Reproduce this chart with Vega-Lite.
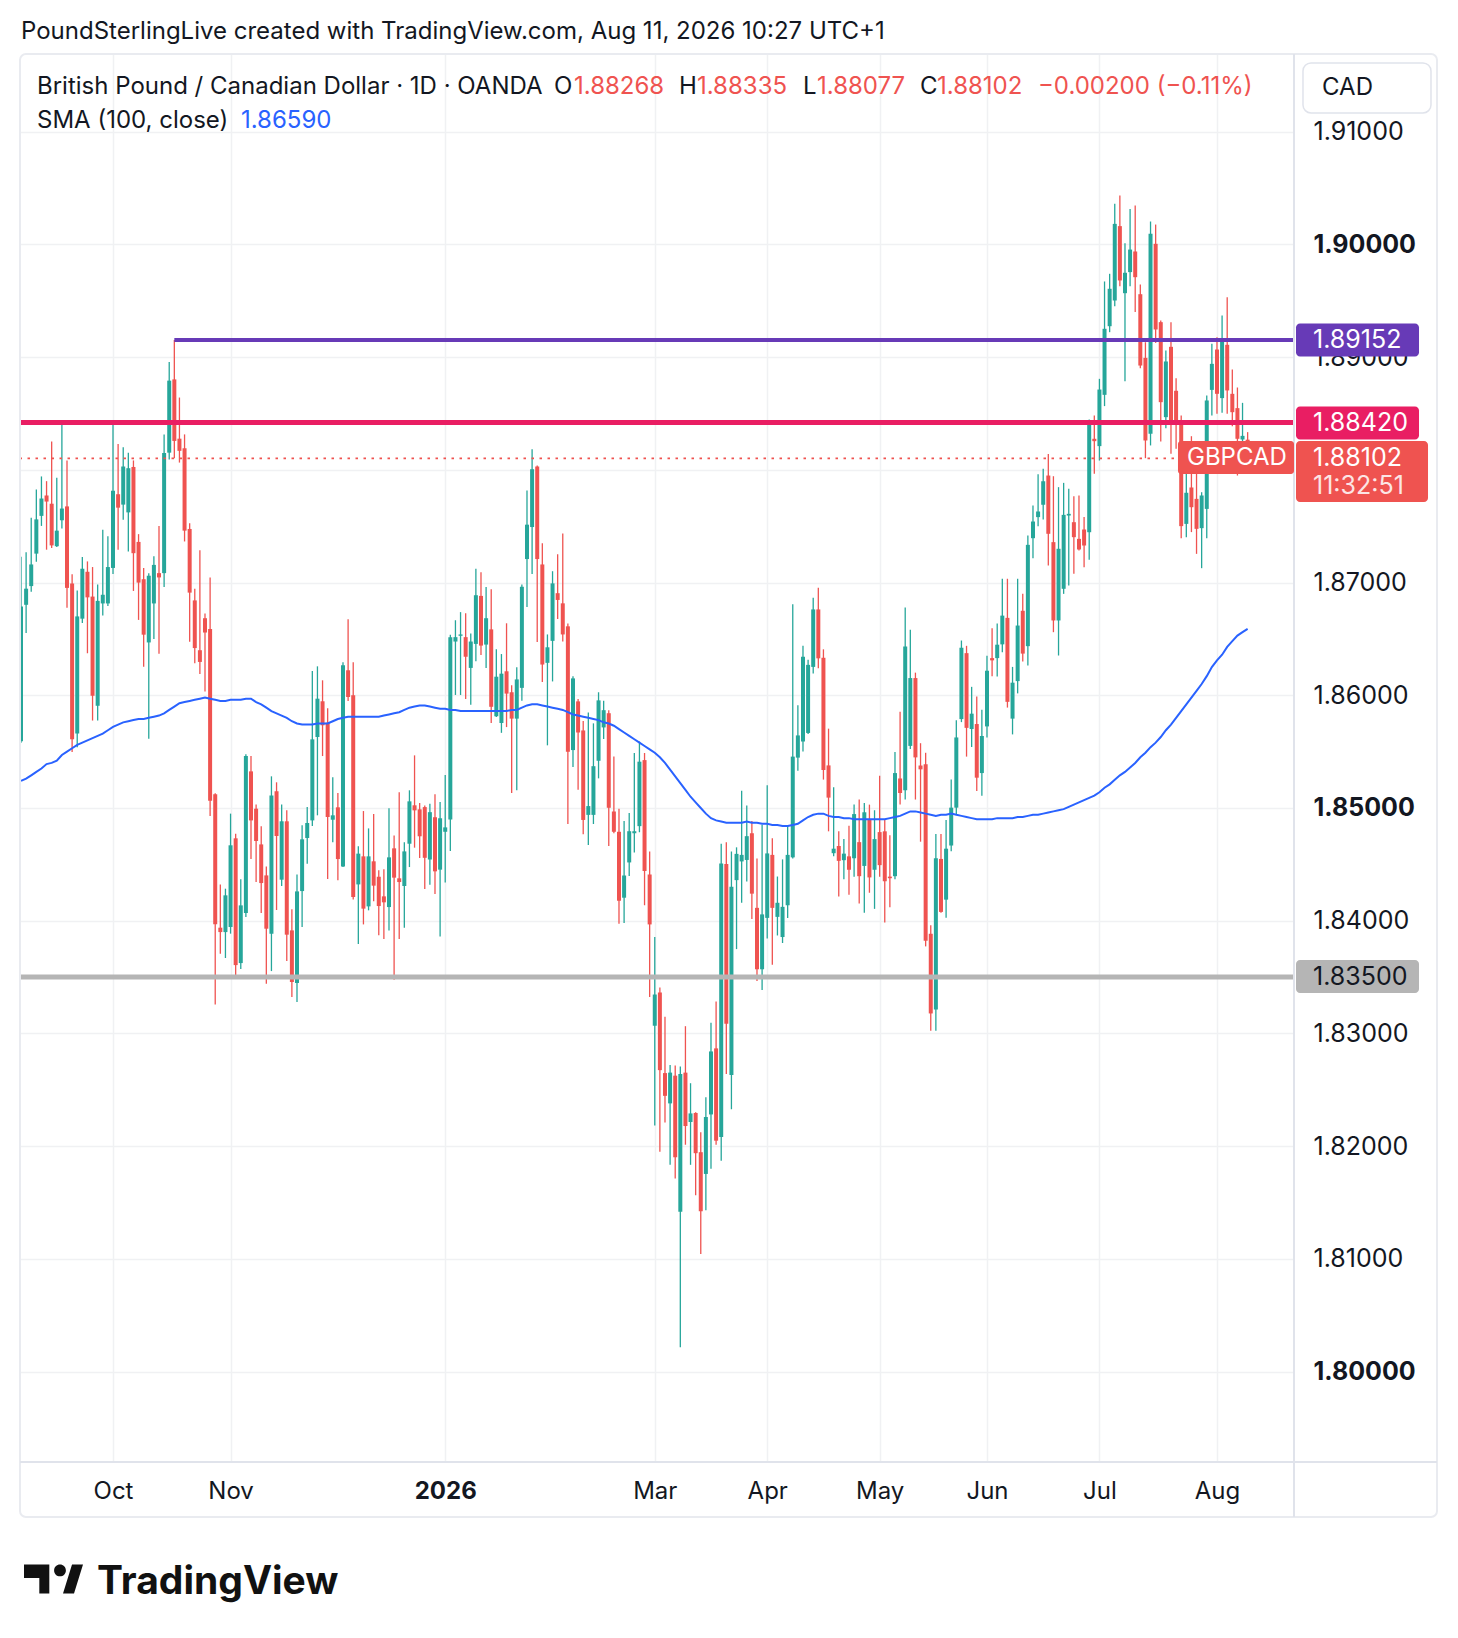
{
  "$schema": "https://vega.github.io/schema/vega-lite/v6.json",
  "width": 1274,
  "height": 1408,
  "autosize": {"type": "none"},
  "padding": {"left": 20, "top": 54, "right": 164, "bottom": 176},
  "background": "#ffffff",
  "config": {"view": {"stroke": null}, "font": "Inter"},
  "data": {"values": [
    {"d":"2025-09-05","o":1.85592,"h":1.8723,"l":1.8558,"c":1.86788,"s":1.8524},
    {"d":"2025-09-08","o":1.86803,"h":1.87269,"l":1.86553,"c":1.86946,"s":1.8526},
    {"d":"2025-09-09","o":1.86969,"h":1.87576,"l":1.86919,"c":1.87161,"s":1.8529},
    {"d":"2025-09-10","o":1.87257,"h":1.87827,"l":1.87184,"c":1.87561,"s":1.8532},
    {"d":"2025-09-11","o":1.87592,"h":1.87942,"l":1.87503,"c":1.87746,"s":1.8535},
    {"d":"2025-09-12","o":1.87773,"h":1.879,"l":1.87292,"c":1.87719,"s":1.8539},
    {"d":"2025-09-15","o":1.877,"h":1.88253,"l":1.87307,"c":1.8733,"s":1.854},
    {"d":"2025-09-16","o":1.87323,"h":1.8793,"l":1.87315,"c":1.87461,"s":1.8542},
    {"d":"2025-09-17","o":1.87553,"h":1.8843,"l":1.8748,"c":1.87657,"s":1.8547},
    {"d":"2025-09-18","o":1.87676,"h":1.88084,"l":1.86777,"c":1.86953,"s":1.855},
    {"d":"2025-09-19","o":1.86992,"h":1.87073,"l":1.85496,"c":1.85611,"s":1.8553},
    {"d":"2025-09-22","o":1.85661,"h":1.8693,"l":1.85538,"c":1.867,"s":1.8556},
    {"d":"2025-09-23","o":1.8668,"h":1.87227,"l":1.86642,"c":1.87123,"s":1.8558},
    {"d":"2025-09-24","o":1.87096,"h":1.87188,"l":1.86373,"c":1.86869,"s":1.856},
    {"d":"2025-09-25","o":1.86876,"h":1.87138,"l":1.85776,"c":1.85996,"s":1.8562},
    {"d":"2025-09-26","o":1.85907,"h":1.86984,"l":1.85776,"c":1.86838,"s":1.8564},
    {"d":"2025-09-29","o":1.86815,"h":1.87469,"l":1.86707,"c":1.86892,"s":1.8566},
    {"d":"2025-09-30","o":1.86815,"h":1.87411,"l":1.86792,"c":1.87138,"s":1.8569},
    {"d":"2025-10-01","o":1.8713,"h":1.884,"l":1.87076,"c":1.87815,"s":1.8572},
    {"d":"2025-10-02","o":1.87784,"h":1.8823,"l":1.87292,"c":1.87665,"s":1.8574},
    {"d":"2025-10-03","o":1.87692,"h":1.882,"l":1.87557,"c":1.8803,"s":1.8576},
    {"d":"2025-10-06","o":1.87623,"h":1.88153,"l":1.87277,"c":1.88015,"s":1.8577},
    {"d":"2025-10-07","o":1.88026,"h":1.88084,"l":1.86926,"c":1.87261,"s":1.8578},
    {"d":"2025-10-08","o":1.87361,"h":1.8743,"l":1.86669,"c":1.87,"s":1.8579},
    {"d":"2025-10-09","o":1.8703,"h":1.8713,"l":1.86253,"c":1.86538,"s":1.8579},
    {"d":"2025-10-10","o":1.86469,"h":1.87084,"l":1.85615,"c":1.87061,"s":1.858},
    {"d":"2025-10-13","o":1.86815,"h":1.87234,"l":1.865,"c":1.87157,"s":1.8581},
    {"d":"2025-10-14","o":1.87084,"h":1.87503,"l":1.86369,"c":1.87046,"s":1.8582},
    {"d":"2025-10-15","o":1.87084,"h":1.88315,"l":1.86961,"c":1.8815,"s":1.8584},
    {"d":"2025-10-16","o":1.88153,"h":1.88957,"l":1.88092,"c":1.88792,"s":1.8587},
    {"d":"2025-10-17","o":1.88803,"h":1.89152,"l":1.88103,"c":1.88257,"s":1.859},
    {"d":"2025-10-20","o":1.88277,"h":1.88642,"l":1.88065,"c":1.88169,"s":1.8593},
    {"d":"2025-10-21","o":1.88192,"h":1.88315,"l":1.87365,"c":1.87461,"s":1.8594},
    {"d":"2025-10-22","o":1.87476,"h":1.87527,"l":1.86476,"c":1.86911,"s":1.8595},
    {"d":"2025-10-23","o":1.86842,"h":1.86946,"l":1.86284,"c":1.86419,"s":1.8596},
    {"d":"2025-10-24","o":1.864,"h":1.87288,"l":1.86188,"c":1.86296,"s":1.8597},
    {"d":"2025-10-27","o":1.86684,"h":1.86726,"l":1.86034,"c":1.86557,"s":1.8598},
    {"d":"2025-10-28","o":1.86588,"h":1.87046,"l":1.8493,"c":1.85065,"s":1.8597},
    {"d":"2025-10-29","o":1.85123,"h":1.8513,"l":1.83257,"c":1.83969,"s":1.8596},
    {"d":"2025-10-30","o":1.83938,"h":1.84322,"l":1.83707,"c":1.83899,"s":1.8595},
    {"d":"2025-10-31","o":1.83899,"h":1.84284,"l":1.83669,"c":1.84225,"s":1.8595},
    {"d":"2025-11-03","o":1.83944,"h":1.8495,"l":1.83885,"c":1.84669,"s":1.8596},
    {"d":"2025-11-04","o":1.84731,"h":1.84772,"l":1.83482,"c":1.83606,"s":1.8596},
    {"d":"2025-11-05","o":1.83624,"h":1.84367,"l":1.83571,"c":1.84136,"s":1.8596},
    {"d":"2025-11-06","o":1.84068,"h":1.85476,"l":1.84032,"c":1.85461,"s":1.8597},
    {"d":"2025-11-07","o":1.85325,"h":1.85461,"l":1.84547,"c":1.8489,"s":1.8597},
    {"d":"2025-11-10","o":1.84994,"h":1.85032,"l":1.84343,"c":1.84707,"s":1.8594},
    {"d":"2025-11-11","o":1.84677,"h":1.84837,"l":1.84068,"c":1.84334,"s":1.8592},
    {"d":"2025-11-12","o":1.84402,"h":1.84482,"l":1.83441,"c":1.83929,"s":1.8589},
    {"d":"2025-11-13","o":1.83885,"h":1.85281,"l":1.83553,"c":1.85112,"s":1.8586},
    {"d":"2025-11-14","o":1.85148,"h":1.85228,"l":1.84095,"c":1.84752,"s":1.8584},
    {"d":"2025-11-17","o":1.84364,"h":1.85032,"l":1.84308,"c":1.84882,"s":1.8582},
    {"d":"2025-11-18","o":1.84882,"h":1.84979,"l":1.83642,"c":1.83876,"s":1.858},
    {"d":"2025-11-19","o":1.83914,"h":1.84101,"l":1.83322,"c":1.83456,"s":1.8577},
    {"d":"2025-11-20","o":1.83447,"h":1.84411,"l":1.83278,"c":1.8426,"s":1.8575},
    {"d":"2025-11-21","o":1.84263,"h":1.84846,"l":1.83944,"c":1.84722,"s":1.8574},
    {"d":"2025-11-24","o":1.84734,"h":1.85009,"l":1.84506,"c":1.84867,"s":1.8574},
    {"d":"2025-11-25","o":1.8489,"h":1.86216,"l":1.8484,"c":1.85609,"s":1.8574},
    {"d":"2025-11-26","o":1.8563,"h":1.86257,"l":1.84935,"c":1.8597,"s":1.8575},
    {"d":"2025-11-27","o":1.85947,"h":1.86133,"l":1.85461,"c":1.85734,"s":1.8575},
    {"d":"2025-11-28","o":1.85757,"h":1.85885,"l":1.8437,"c":1.8492,"s":1.8575},
    {"d":"2025-12-01","o":1.84896,"h":1.85272,"l":1.84695,"c":1.84935,"s":1.8577},
    {"d":"2025-12-02","o":1.85006,"h":1.85133,"l":1.84358,"c":1.84547,"s":1.8579},
    {"d":"2025-12-03","o":1.84482,"h":1.86293,"l":1.84476,"c":1.86266,"s":1.858},
    {"d":"2025-12-04","o":1.86222,"h":1.86675,"l":1.8595,"c":1.85985,"s":1.8581},
    {"d":"2025-12-05","o":1.86,"h":1.86293,"l":1.84189,"c":1.8421,"s":1.8581},
    {"d":"2025-12-08","o":1.84322,"h":1.8466,"l":1.83793,"c":1.84595,"s":1.8581},
    {"d":"2025-12-09","o":1.84571,"h":1.84973,"l":1.83967,"c":1.84107,"s":1.8581},
    {"d":"2025-12-10","o":1.84127,"h":1.84819,"l":1.84092,"c":1.84571,"s":1.8581},
    {"d":"2025-12-11","o":1.84527,"h":1.84947,"l":1.84172,"c":1.84311,"s":1.8581},
    {"d":"2025-12-12","o":1.8439,"h":1.84447,"l":1.8387,"c":1.8413,"s":1.8581},
    {"d":"2025-12-15","o":1.84216,"h":1.84456,"l":1.83837,"c":1.84163,"s":1.8582},
    {"d":"2025-12-16","o":1.84121,"h":1.84997,"l":1.83914,"c":1.84562,"s":1.8583},
    {"d":"2025-12-17","o":1.84642,"h":1.84757,"l":1.83476,"c":1.84382,"s":1.8584},
    {"d":"2025-12-18","o":1.84376,"h":1.85139,"l":1.83837,"c":1.84343,"s":1.8585},
    {"d":"2025-12-19","o":1.84308,"h":1.84695,"l":1.83938,"c":1.84615,"s":1.8587},
    {"d":"2025-12-22","o":1.84683,"h":1.85157,"l":1.84476,"c":1.85059,"s":1.8589},
    {"d":"2025-12-23","o":1.85024,"h":1.85467,"l":1.84648,"c":1.84979,"s":1.859},
    {"d":"2025-12-24","o":1.84988,"h":1.85044,"l":1.84556,"c":1.84749,"s":1.8591},
    {"d":"2025-12-26","o":1.85008,"h":1.85023,"l":1.84282,"c":1.84558,"s":1.8591},
    {"d":"2025-12-29","o":1.84543,"h":1.85038,"l":1.84318,"c":1.84963,"s":1.859},
    {"d":"2025-12-30","o":1.84918,"h":1.85122,"l":1.84237,"c":1.84438,"s":1.8589},
    {"d":"2025-12-31","o":1.84453,"h":1.85053,"l":1.83859,"c":1.84909,"s":1.8588},
    {"d":"2026-01-02","o":1.84789,"h":1.85293,"l":1.84339,"c":1.84828,"s":1.8588},
    {"d":"2026-01-05","o":1.84897,"h":1.86537,"l":1.84618,"c":1.86516,"s":1.8587},
    {"d":"2026-01-06","o":1.86477,"h":1.86666,"l":1.86003,"c":1.86516,"s":1.8587},
    {"d":"2026-01-07","o":1.86528,"h":1.86738,"l":1.86003,"c":1.8654,"s":1.8586},
    {"d":"2026-01-08","o":1.86516,"h":1.86729,"l":1.85967,"c":1.86342,"s":1.8586},
    {"d":"2026-01-09","o":1.86243,"h":1.86549,"l":1.85916,"c":1.86477,"s":1.8586},
    {"d":"2026-01-12","o":1.86456,"h":1.87122,"l":1.86303,"c":1.86888,"s":1.8586},
    {"d":"2026-01-13","o":1.86882,"h":1.87092,"l":1.86357,"c":1.86441,"s":1.8586},
    {"d":"2026-01-14","o":1.8645,"h":1.8696,"l":1.86243,"c":1.86684,"s":1.8586},
    {"d":"2026-01-15","o":1.86585,"h":1.86942,"l":1.85754,"c":1.85898,"s":1.8586},
    {"d":"2026-01-16","o":1.85814,"h":1.86408,"l":1.85808,"c":1.86165,"s":1.8586},
    {"d":"2026-01-19","o":1.85754,"h":1.86366,"l":1.85667,"c":1.86192,"s":1.8586},
    {"d":"2026-01-20","o":1.86213,"h":1.86639,"l":1.85718,"c":1.86015,"s":1.8586},
    {"d":"2026-01-21","o":1.86027,"h":1.8609,"l":1.85134,"c":1.85793,"s":1.8587},
    {"d":"2026-01-22","o":1.85793,"h":1.86249,"l":1.85158,"c":1.86141,"s":1.8587},
    {"d":"2026-01-23","o":1.86066,"h":1.86984,"l":1.85952,"c":1.86963,"s":1.8589},
    {"d":"2026-01-26","o":1.87209,"h":1.87817,"l":1.86783,"c":1.87514,"s":1.8591},
    {"d":"2026-01-27","o":1.87493,"h":1.88183,"l":1.87077,"c":1.88006,"s":1.8592},
    {"d":"2026-01-28","o":1.8803,"h":1.8804,"l":1.86474,"c":1.87209,"s":1.8592},
    {"d":"2026-01-29","o":1.87161,"h":1.8735,"l":1.86117,"c":1.86273,"s":1.8591},
    {"d":"2026-01-30","o":1.86288,"h":1.8654,"l":1.85556,"c":1.86426,"s":1.859},
    {"d":"2026-02-02","o":1.86483,"h":1.87101,"l":1.86123,"c":1.86993,"s":1.8589},
    {"d":"2026-02-03","o":1.86906,"h":1.87251,"l":1.86678,"c":1.86846,"s":1.8588},
    {"d":"2026-02-04","o":1.86816,"h":1.87436,"l":1.86477,"c":1.8654,"s":1.8587},
    {"d":"2026-02-05","o":1.86612,"h":1.86636,"l":1.84858,"c":1.85499,"s":1.8585},
    {"d":"2026-02-06","o":1.85514,"h":1.86168,"l":1.85364,"c":1.8615,"s":1.8583},
    {"d":"2026-02-09","o":1.85946,"h":1.85967,"l":1.85161,"c":1.8567,"s":1.8582},
    {"d":"2026-02-10","o":1.85688,"h":1.85772,"l":1.84768,"c":1.84894,"s":1.8581},
    {"d":"2026-02-11","o":1.84939,"h":1.85847,"l":1.84672,"c":1.85017,"s":1.858},
    {"d":"2026-02-12","o":1.84939,"h":1.85751,"l":1.84858,"c":1.85371,"s":1.8579},
    {"d":"2026-02-13","o":1.85419,"h":1.86027,"l":1.85263,"c":1.85955,"s":1.8578},
    {"d":"2026-02-16","o":1.85715,"h":1.85952,"l":1.85613,"c":1.85868,"s":1.8576},
    {"d":"2026-02-17","o":1.85841,"h":1.85868,"l":1.84663,"c":1.85002,"s":1.8575},
    {"d":"2026-02-18","o":1.84969,"h":1.85458,"l":1.84777,"c":1.84789,"s":1.8573},
    {"d":"2026-02-19","o":1.84789,"h":1.84993,"l":1.83973,"c":1.84177,"s":1.857},
    {"d":"2026-02-20","o":1.84204,"h":1.84884,"l":1.8398,"c":1.84401,"s":1.8567},
    {"d":"2026-02-23","o":1.84517,"h":1.84955,"l":1.84396,"c":1.84794,"s":1.8564},
    {"d":"2026-02-24","o":1.84776,"h":1.85488,"l":1.84606,"c":1.84794,"s":1.8561},
    {"d":"2026-02-25","o":1.84839,"h":1.8559,"l":1.84785,"c":1.85411,"s":1.8558},
    {"d":"2026-02-26","o":1.85425,"h":1.85488,"l":1.84137,"c":1.84441,"s":1.8555},
    {"d":"2026-02-27","o":1.8441,"h":1.84615,"l":1.83323,"c":1.83967,"s":1.8552},
    {"d":"2026-03-02","o":1.83068,"h":1.83855,"l":1.82182,"c":1.83345,"s":1.8549},
    {"d":"2026-03-03","o":1.83363,"h":1.83408,"l":1.8195,"c":1.82674,"s":1.8545},
    {"d":"2026-03-04","o":1.82648,"h":1.83148,"l":1.82209,"c":1.82446,"s":1.854},
    {"d":"2026-03-05","o":1.82379,"h":1.82719,"l":1.81834,"c":1.82652,"s":1.8534},
    {"d":"2026-03-06","o":1.82625,"h":1.82715,"l":1.81713,"c":1.81901,"s":1.8528},
    {"d":"2026-03-09","o":1.81418,"h":1.82706,"l":1.80215,"c":1.82639,"s":1.8522},
    {"d":"2026-03-10","o":1.82652,"h":1.83064,"l":1.82012,"c":1.82178,"s":1.8516},
    {"d":"2026-03-11","o":1.82214,"h":1.82558,"l":1.81834,"c":1.8229,"s":1.851},
    {"d":"2026-03-12","o":1.82294,"h":1.823,"l":1.81565,"c":1.81937,"s":1.8505},
    {"d":"2026-03-13","o":1.81946,"h":1.82124,"l":1.81042,"c":1.81422,"s":1.85},
    {"d":"2026-03-16","o":1.81753,"h":1.82433,"l":1.81431,"c":1.82258,"s":1.8495},
    {"d":"2026-03-17","o":1.82281,"h":1.83095,"l":1.81798,"c":1.8284,"s":1.8491},
    {"d":"2026-03-18","o":1.82867,"h":1.83283,"l":1.82012,"c":1.82048,"s":1.8489},
    {"d":"2026-03-19","o":1.8208,"h":1.84682,"l":1.81869,"c":1.84508,"s":1.8488},
    {"d":"2026-03-20","o":1.84504,"h":1.84696,"l":1.82639,"c":1.83086,"s":1.8487},
    {"d":"2026-03-23","o":1.8263,"h":1.84615,"l":1.82326,"c":1.84302,"s":1.8487},
    {"d":"2026-03-24","o":1.8436,"h":1.84651,"l":1.83748,"c":1.84593,"s":1.8487},
    {"d":"2026-03-25","o":1.84526,"h":1.85152,"l":1.84159,"c":1.84584,"s":1.8487},
    {"d":"2026-03-26","o":1.84539,"h":1.85022,"l":1.84347,"c":1.8475,"s":1.8488},
    {"d":"2026-03-27","o":1.84776,"h":1.84884,"l":1.84016,"c":1.8424,"s":1.8487},
    {"d":"2026-03-30","o":1.84114,"h":1.84553,"l":1.83466,"c":1.83569,"s":1.8487},
    {"d":"2026-03-31","o":1.83569,"h":1.84852,"l":1.83386,"c":1.84056,"s":1.8486},
    {"d":"2026-04-01","o":1.84025,"h":1.85201,"l":1.83842,"c":1.84597,"s":1.8486},
    {"d":"2026-04-02","o":1.84584,"h":1.84732,"l":1.83609,"c":1.84114,"s":1.8485},
    {"d":"2026-04-03","o":1.84034,"h":1.84392,"l":1.83869,"c":1.84159,"s":1.8485},
    {"d":"2026-04-06","o":1.83855,"h":1.84544,"l":1.83802,"c":1.84123,"s":1.8484},
    {"d":"2026-04-07","o":1.84137,"h":1.84843,"l":1.84025,"c":1.84584,"s":1.8484},
    {"d":"2026-04-08","o":1.84562,"h":1.86807,"l":1.84553,"c":1.85456,"s":1.8485},
    {"d":"2026-04-09","o":1.85447,"h":1.85912,"l":1.85331,"c":1.85644,"s":1.8486},
    {"d":"2026-04-10","o":1.8559,"h":1.8644,"l":1.85501,"c":1.86342,"s":1.8489},
    {"d":"2026-04-13","o":1.85666,"h":1.86315,"l":1.85657,"c":1.8627,"s":1.8492},
    {"d":"2026-04-14","o":1.86252,"h":1.86865,"l":1.86194,"c":1.86762,"s":1.8494},
    {"d":"2026-04-15","o":1.86762,"h":1.86954,"l":1.86239,"c":1.86328,"s":1.8495},
    {"d":"2026-04-16","o":1.86333,"h":1.86408,"l":1.85252,"c":1.85337,"s":1.8495},
    {"d":"2026-04-17","o":1.85378,"h":1.85704,"l":1.84793,"c":1.85092,"s":1.8493},
    {"d":"2026-04-20","o":1.84599,"h":1.85184,"l":1.84571,"c":1.84639,"s":1.8492},
    {"d":"2026-04-21","o":1.84663,"h":1.84793,"l":1.84214,"c":1.84531,"s":1.8492},
    {"d":"2026-04-22","o":1.84537,"h":1.84725,"l":1.84367,"c":1.84595,"s":1.8491},
    {"d":"2026-04-23","o":1.84571,"h":1.84843,"l":1.84231,"c":1.84452,"s":1.8491},
    {"d":"2026-04-24","o":1.84554,"h":1.8503,"l":1.84391,"c":1.84946,"s":1.849},
    {"d":"2026-04-27","o":1.84697,"h":1.85075,"l":1.84153,"c":1.84395,"s":1.849},
    {"d":"2026-04-28","o":1.84486,"h":1.85044,"l":1.84071,"c":1.84962,"s":1.849},
    {"d":"2026-04-29","o":1.84901,"h":1.8503,"l":1.84248,"c":1.84384,"s":1.849},
    {"d":"2026-04-30","o":1.84452,"h":1.8498,"l":1.84105,"c":1.84724,"s":1.849},
    {"d":"2026-05-01","o":1.84786,"h":1.85286,"l":1.84391,"c":1.84493,"s":1.849},
    {"d":"2026-05-04","o":1.84793,"h":1.84894,"l":1.83983,"c":1.8435,"s":1.849},
    {"d":"2026-05-05","o":1.84391,"h":1.84758,"l":1.84119,"c":1.84377,"s":1.8491},
    {"d":"2026-05-06","o":1.84395,"h":1.85497,"l":1.84367,"c":1.8531,"s":1.8492},
    {"d":"2026-05-07","o":1.85262,"h":1.85854,"l":1.85031,"c":1.85133,"s":1.8493},
    {"d":"2026-05-08","o":1.85157,"h":1.86779,"l":1.85075,"c":1.86432,"s":1.8495},
    {"d":"2026-05-11","o":1.85551,"h":1.86582,"l":1.85524,"c":1.86153,"s":1.8497},
    {"d":"2026-05-12","o":1.86153,"h":1.86201,"l":1.85075,"c":1.85449,"s":1.8497},
    {"d":"2026-05-13","o":1.85377,"h":1.85575,"l":1.84701,"c":1.85343,"s":1.8496},
    {"d":"2026-05-14","o":1.85388,"h":1.8549,"l":1.83772,"c":1.83823,"s":1.8495},
    {"d":"2026-05-15","o":1.83884,"h":1.83959,"l":1.83024,"c":1.83177,"s":1.8494},
    {"d":"2026-05-18","o":1.83211,"h":1.84769,"l":1.83024,"c":1.84554,"s":1.8493},
    {"d":"2026-05-19","o":1.84548,"h":1.84769,"l":1.8407,"c":1.84078,"s":1.8494},
    {"d":"2026-05-20","o":1.84187,"h":1.84894,"l":1.84027,"c":1.84639,"s":1.8494},
    {"d":"2026-05-21","o":1.84667,"h":1.85252,"l":1.84616,"c":1.85003,"s":1.8495},
    {"d":"2026-05-22","o":1.85003,"h":1.85779,"l":1.84946,"c":1.85626,"s":1.8494},
    {"d":"2026-05-25","o":1.85789,"h":1.86486,"l":1.85762,"c":1.86422,"s":1.8493},
    {"d":"2026-05-26","o":1.86374,"h":1.86439,"l":1.85456,"c":1.85711,"s":1.8492},
    {"d":"2026-05-27","o":1.85701,"h":1.86075,"l":1.85541,"c":1.85837,"s":1.8491},
    {"d":"2026-05-28","o":1.85745,"h":1.8599,"l":1.8515,"c":1.85269,"s":1.849},
    {"d":"2026-05-29","o":1.8531,"h":1.85871,"l":1.85109,"c":1.85639,"s":1.849},
    {"d":"2026-06-01","o":1.85724,"h":1.8635,"l":1.85626,"c":1.86218,"s":1.849},
    {"d":"2026-06-02","o":1.8633,"h":1.86595,"l":1.8617,"c":1.8631,"s":1.849},
    {"d":"2026-06-03","o":1.8633,"h":1.86636,"l":1.86167,"c":1.86449,"s":1.8491},
    {"d":"2026-06-04","o":1.86452,"h":1.87034,"l":1.86381,"c":1.86707,"s":1.8491},
    {"d":"2026-06-05","o":1.86687,"h":1.87034,"l":1.85891,"c":1.85942,"s":1.8491},
    {"d":"2026-06-08","o":1.85793,"h":1.86252,"l":1.85653,"c":1.86112,"s":1.8491},
    {"d":"2026-06-09","o":1.86126,"h":1.87034,"l":1.86017,"c":1.86619,"s":1.8492},
    {"d":"2026-06-10","o":1.8675,"h":1.869,"l":1.863,"c":1.8637,"s":1.8492},
    {"d":"2026-06-11","o":1.86436,"h":1.87418,"l":1.86264,"c":1.87335,"s":1.8493},
    {"d":"2026-06-12","o":1.87394,"h":1.87684,"l":1.87217,"c":1.87542,"s":1.8494},
    {"d":"2026-06-15","o":1.87581,"h":1.87962,"l":1.87501,"c":1.87631,"s":1.8494},
    {"d":"2026-06-16","o":1.8769,"h":1.8801,"l":1.8756,"c":1.879,"s":1.8495},
    {"d":"2026-06-17","o":1.8795,"h":1.8814,"l":1.87152,"c":1.87433,"s":1.8496},
    {"d":"2026-06-18","o":1.87359,"h":1.87944,"l":1.8656,"c":1.86664,"s":1.8497},
    {"d":"2026-06-19","o":1.86664,"h":1.87847,"l":1.86353,"c":1.873,"s":1.8498},
    {"d":"2026-06-22","o":1.86945,"h":1.87885,"l":1.869,"c":1.87601,"s":1.8499},
    {"d":"2026-06-23","o":1.87595,"h":1.87832,"l":1.86974,"c":1.8761,"s":1.8501},
    {"d":"2026-06-24","o":1.87536,"h":1.87767,"l":1.87078,"c":1.87403,"s":1.8503},
    {"d":"2026-06-25","o":1.87388,"h":1.87773,"l":1.87285,"c":1.87294,"s":1.8505},
    {"d":"2026-06-26","o":1.87471,"h":1.87581,"l":1.87137,"c":1.87329,"s":1.8507},
    {"d":"2026-06-29","o":1.87447,"h":1.88447,"l":1.87202,"c":1.88418,"s":1.8509},
    {"d":"2026-06-30","o":1.88276,"h":1.88483,"l":1.87965,"c":1.88255,"s":1.8511},
    {"d":"2026-07-01","o":1.88211,"h":1.88808,"l":1.88083,"c":1.88713,"s":1.8514},
    {"d":"2026-07-02","o":1.88666,"h":1.89672,"l":1.88566,"c":1.89252,"s":1.8518},
    {"d":"2026-07-03","o":1.89275,"h":1.8974,"l":1.89222,"c":1.89607,"s":1.8521},
    {"d":"2026-07-06","o":1.89503,"h":1.90361,"l":1.89453,"c":1.90183,"s":1.8525},
    {"d":"2026-07-07","o":1.90163,"h":1.90435,"l":1.8963,"c":1.89681,"s":1.8529},
    {"d":"2026-07-08","o":1.89568,"h":1.90012,"l":1.88787,"c":1.89749,"s":1.8532},
    {"d":"2026-07-09","o":1.89755,"h":1.90316,"l":1.8963,"c":1.89955,"s":1.8536},
    {"d":"2026-07-10","o":1.89938,"h":1.90346,"l":1.894,"c":1.8971,"s":1.854},
    {"d":"2026-07-13","o":1.89559,"h":1.89645,"l":1.88903,"c":1.88926,"s":1.8545},
    {"d":"2026-07-14","o":1.88994,"h":1.89133,"l":1.88104,"c":1.88261,"s":1.8549},
    {"d":"2026-07-15","o":1.8832,"h":1.90204,"l":1.88217,"c":1.90095,"s":1.8554},
    {"d":"2026-07-16","o":1.90006,"h":1.90177,"l":1.89127,"c":1.89246,"s":1.8558},
    {"d":"2026-07-17","o":1.89311,"h":1.89326,"l":1.88252,"c":1.88601,"s":1.8563},
    {"d":"2026-07-20","o":1.88468,"h":1.89059,"l":1.8837,"c":1.88962,"s":1.8569},
    {"d":"2026-07-21","o":1.89092,"h":1.89311,"l":1.88143,"c":1.88409,"s":1.8574},
    {"d":"2026-07-22","o":1.88702,"h":1.88814,"l":1.88187,"c":1.88409,"s":1.858},
    {"d":"2026-07-23","o":1.88409,"h":1.88483,"l":1.87394,"c":1.87501,"s":1.8586},
    {"d":"2026-07-24","o":1.87521,"h":1.8801,"l":1.87403,"c":1.87797,"s":1.8592},
    {"d":"2026-07-27","o":1.87844,"h":1.88299,"l":1.87448,"c":1.87669,"s":1.8598},
    {"d":"2026-07-28","o":1.87743,"h":1.8798,"l":1.87255,"c":1.87477,"s":1.8604},
    {"d":"2026-07-29","o":1.87483,"h":1.87802,"l":1.87128,"c":1.87773,"s":1.861},
    {"d":"2026-07-30","o":1.87654,"h":1.8866,"l":1.87394,"c":1.88616,"s":1.8617},
    {"d":"2026-07-31","o":1.8871,"h":1.89119,"l":1.88483,"c":1.88941,"s":1.8625},
    {"d":"2026-08-03","o":1.89068,"h":1.89178,"l":1.88498,"c":1.88675,"s":1.8631},
    {"d":"2026-08-04","o":1.88637,"h":1.8937,"l":1.88506,"c":1.89151,"s":1.8636},
    {"d":"2026-08-05","o":1.8911,"h":1.89533,"l":1.88498,"c":1.88705,"s":1.8643},
    {"d":"2026-08-06","o":1.88675,"h":1.88891,"l":1.88388,"c":1.88512,"s":1.8648},
    {"d":"2026-08-07","o":1.88548,"h":1.88731,"l":1.8795,"c":1.88276,"s":1.8653},
    {"d":"2026-08-10","o":1.8827,"h":1.88595,"l":1.88246,"c":1.88302,"s":1.8656},
    {"d":"2026-08-11","o":1.88268,"h":1.88335,"l":1.88077,"c":1.88102,"s":1.8659}
  ]},
  "transform": [{"window": [{"op": "row_number", "as": "n"}], "sort": [{"field": "d"}]}],
  "layer": [
    {
      "mark": {"type": "rule", "strokeWidth": 1.3},
      "encoding": {
        "x": {
          "field": "n", "type": "quantitative",
          "scale": {"domain": [0.804, 250.07], "nice": false, "zero": false, "padding": 0},
          "axis": {
            "title": null, "zindex": 0,
            "values": [19, 42, 84, 125, 147, 169, 190, 212, 235],
            "labelExpr": "['Oct','Nov','2026','Mar','Apr','May','Jun','Jul','Aug'][indexof([19,42,84,125,147,169,190,212,235], datum.value)]",
            "grid": true, "gridColor": "#f0f1f3", "gridWidth": 1.5,
            "domain": false, "ticks": false,
            "labelFont": "Inter", "labelFontSize": 24, "labelColor": "#131722", "labelPadding": 17,
            "labelFontWeight": {"condition": {"test": "datum.value == 84", "value": 700}, "value": 400}
          }
        },
        "y": {
          "field": "l", "type": "quantitative",
          "scale": {"domain": [1.79197, 1.916903], "nice": false, "zero": false, "padding": 0},
          "axis": {
            "orient": "right", "title": null, "zindex": 0,
            "values": [1.80, 1.81, 1.82, 1.83, 1.84, 1.85, 1.86, 1.87, 1.88, 1.89, 1.90, 1.91],
            "labelExpr": "abs(datum.value - 1.88) < 0.0001 ? '' : format(datum.value, '.5f')",
            "grid": true, "gridColor": "#f0f1f3", "gridWidth": 1.5,
            "domain": false, "ticks": false,
            "labelFont": "Inter", "labelFontSize": 25, "labelColor": "#131722",
            "labelAlign": "left", "labelPadding": 19,
            "labelFontWeight": {"condition": {"test": "abs(datum.value * 20 - round(datum.value * 20)) < 0.0001", "value": 700}, "value": 400}
          }
        },
        "y2": {"field": "h"},
        "color": {"condition": {"test": "datum.c >= datum.o", "value": "#26a69a"}, "value": "#ef5350"}
      }
    },
    {
      "mark": {"type": "bar", "width": 4},
      "encoding": {
        "x": {"field": "n", "type": "quantitative"},
        "y": {"field": "o", "type": "quantitative"},
        "y2": {"field": "c"},
        "color": {"condition": {"test": "datum.c >= datum.o", "value": "#26a69a"}, "value": "#ef5350"}
      }
    },
    {
      "mark": {"type": "line", "color": "#2962ff", "strokeWidth": 2},
      "encoding": {
        "x": {"field": "n", "type": "quantitative"},
        "y": {"field": "s", "type": "quantitative"}
      }
    },
    {
      "data": {"values": [{}]},
      "mark": {"type": "rule", "color": "#b5b5b5", "strokeWidth": 5},
      "encoding": {"y": {"datum": 1.835}}
    },
    {
      "data": {"values": [{}]},
      "mark": {"type": "rule", "color": "#ef5350", "strokeWidth": 1.8, "strokeDash": [2.5, 5.5]},
      "encoding": {"y": {"datum": 1.88102}}
    },
    {
      "data": {"values": [{}]},
      "mark": {"type": "rule", "color": "#e91e63", "strokeWidth": 5},
      "encoding": {"y": {"datum": 1.8842}}
    },
    {
      "data": {"values": [{}]},
      "mark": {"type": "rule", "color": "#673ab7", "strokeWidth": 4},
      "encoding": {"x": {"datum": 31}, "x2": {"datum": 250.07}, "y": {"datum": 1.89152}}
    },
    {
      "data": {"values": [{}]},
      "mark": {"type": "rect", "fill": "transparent", "stroke": "#e9ebf0", "strokeWidth": 2, "cornerRadius": 6},
      "encoding": {"x": {"datum": 0.8043}, "x2": {"datum": 278.05}, "y": {"datum": 1.916903}, "y2": {"datum": 1.78709}}
    },
    {
      "data": {"values": [{}]},
      "mark": {"type": "rule", "color": "#e0e3eb", "strokeWidth": 2},
      "encoding": {"x": {"datum": 250.07}, "y": {"datum": 1.916903}, "y2": {"datum": 1.78709}}
    },
    {
      "data": {"values": [{}]},
      "mark": {"type": "rule", "color": "#e0e3eb", "strokeWidth": 2},
      "encoding": {"y": {"datum": 1.79197}, "x": {"datum": 0.8043}, "x2": {"datum": 278.05}}
    },
    {
      "data": {"values": [{}]},
      "mark": {"type": "rect", "fill": "#ffffff", "stroke": "#e0e3eb", "strokeWidth": 1.5, "cornerRadius": 8},
      "encoding": {"x": {"datum": 251.83}, "x2": {"datum": 276.87}, "y": {"datum": 1.916105}, "y2": {"datum": 1.911668}}
    },
    {
      "data": {"values": [{}]},
      "mark": {"type": "text", "text": "CAD", "align": "left", "baseline": "middle", "fontSize": 24, "color": "#131722"},
      "encoding": {"x": {"datum": 255.55}, "y": {"datum": 1.913886}}
    },
    {
      "data": {"values": [{}]},
      "mark": {"type": "rect", "color": "#673ab7", "cornerRadius": 4},
      "encoding": {"x": {"datum": 250.46}, "x2": {"datum": 274.53}, "y": {"datum": 1.89299}, "y2": {"datum": 1.89006}}
    },
    {
      "data": {"values": [{}]},
      "mark": {"type": "text", "text": "1.89152", "align": "left", "baseline": "middle", "fontSize": 25, "color": "#ffffff"},
      "encoding": {"x": {"datum": 253.79}, "y": {"datum": 1.89152}}
    },
    {
      "data": {"values": [{}]},
      "mark": {"type": "rect", "color": "#e91e63", "cornerRadius": 4},
      "encoding": {"x": {"datum": 250.46}, "x2": {"datum": 274.53}, "y": {"datum": 1.885626}, "y2": {"datum": 1.882697}}
    },
    {
      "data": {"values": [{}]},
      "mark": {"type": "text", "text": "1.88420", "align": "left", "baseline": "middle", "fontSize": 25, "color": "#ffffff"},
      "encoding": {"x": {"datum": 253.79}, "y": {"datum": 1.8842}}
    },
    {
      "data": {"values": [{}]},
      "mark": {"type": "rect", "color": "#ef5350", "cornerRadius": 4},
      "encoding": {"x": {"datum": 250.46}, "x2": {"datum": 276.29}, "y": {"datum": 1.882564}, "y2": {"datum": 1.877152}}
    },
    {
      "data": {"values": [{}]},
      "mark": {"type": "text", "text": "1.88102", "align": "left", "baseline": "middle", "fontSize": 25, "color": "#ffffff"},
      "encoding": {"x": {"datum": 253.79}, "y": {"datum": 1.88102}}
    },
    {
      "data": {"values": [{}]},
      "mark": {"type": "text", "text": "11:32:51", "align": "left", "baseline": "middle", "fontSize": 25, "color": "#ffffff", "opacity": 0.85},
      "encoding": {"x": {"datum": 253.79}, "y": {"datum": 1.878571}}
    },
    {
      "data": {"values": [{}]},
      "mark": {"type": "rect", "color": "#ef5350", "cornerRadius": 3},
      "encoding": {"x": {"datum": 227.37}, "x2": {"datum": 250.07}, "y": {"datum": 1.882564}, "y2": {"datum": 1.879636}}
    },
    {
      "data": {"values": [{}]},
      "mark": {"type": "text", "text": "GBPCAD", "align": "left", "baseline": "middle", "fontSize": 24, "color": "#ffffff"},
      "encoding": {"x": {"datum": 229.13}, "y": {"datum": 1.88102}}
    },
    {
      "data": {"values": [{}]},
      "mark": {"type": "rect", "color": "#b5b5b5", "cornerRadius": 4},
      "encoding": {"x": {"datum": 250.46}, "x2": {"datum": 274.53}, "y": {"datum": 1.836513}, "y2": {"datum": 1.833585}}
    },
    {
      "data": {"values": [{}]},
      "mark": {"type": "text", "text": "1.83500", "align": "left", "baseline": "middle", "fontSize": 25, "color": "#131722"},
      "encoding": {"x": {"datum": 253.79}, "y": {"datum": 1.835}}
    },
    {
      "data": {"values": [{}]},
      "mark": {"type": "text", "text": "PoundSterlingLive created with TradingView.com, Aug 11, 2026 10:27 UTC+1", "align": "left", "baseline": "alphabetic", "fontSize": 24, "color": "#131722"},
      "encoding": {"x": {"datum": 1.0}, "y": {"datum": 1.91819}}
    },
    {
      "data": {"values": [{}]},
      "mark": {"type": "text", "text": "British Pound / Canadian Dollar · 1D · OANDA", "align": "left", "baseline": "alphabetic", "fontSize": 24, "color": "#131722"},
      "encoding": {"x": {"datum": 4.13}, "y": {"datum": 1.913398}}
    },
    {
      "data": {"values": [{}]},
      "mark": {"type": "text", "text": "O", "align": "left", "baseline": "alphabetic", "fontSize": 24, "color": "#131722"},
      "encoding": {"x": {"datum": 105.28}, "y": {"datum": 1.913398}}
    },
    {
      "data": {"values": [{}]},
      "mark": {"type": "text", "text": "1.88268", "align": "left", "baseline": "alphabetic", "fontSize": 24, "color": "#ef5350"},
      "encoding": {"x": {"datum": 109.2}, "y": {"datum": 1.913398}}
    },
    {
      "data": {"values": [{}]},
      "mark": {"type": "text", "text": "H", "align": "left", "baseline": "alphabetic", "fontSize": 24, "color": "#131722"},
      "encoding": {"x": {"datum": 129.74}, "y": {"datum": 1.913398}}
    },
    {
      "data": {"values": [{}]},
      "mark": {"type": "text", "text": "1.88335", "align": "left", "baseline": "alphabetic", "fontSize": 24, "color": "#ef5350"},
      "encoding": {"x": {"datum": 133.26}, "y": {"datum": 1.913398}}
    },
    {
      "data": {"values": [{}]},
      "mark": {"type": "text", "text": "L", "align": "left", "baseline": "alphabetic", "fontSize": 24, "color": "#131722"},
      "encoding": {"x": {"datum": 154.0}, "y": {"datum": 1.913398}}
    },
    {
      "data": {"values": [{}]},
      "mark": {"type": "text", "text": "1.88077", "align": "left", "baseline": "alphabetic", "fontSize": 24, "color": "#ef5350"},
      "encoding": {"x": {"datum": 156.74}, "y": {"datum": 1.913398}}
    },
    {
      "data": {"values": [{}]},
      "mark": {"type": "text", "text": "C", "align": "left", "baseline": "alphabetic", "fontSize": 24, "color": "#131722"},
      "encoding": {"x": {"datum": 176.9}, "y": {"datum": 1.913398}}
    },
    {
      "data": {"values": [{}]},
      "mark": {"type": "text", "text": "1.88102", "align": "left", "baseline": "alphabetic", "fontSize": 24, "color": "#ef5350"},
      "encoding": {"x": {"datum": 180.22}, "y": {"datum": 1.913398}}
    },
    {
      "data": {"values": [{}]},
      "mark": {"type": "text", "text": "−0.00200 (−0.11%)", "align": "left", "baseline": "alphabetic", "fontSize": 24, "color": "#ef5350"},
      "encoding": {"x": {"datum": 199.98}, "y": {"datum": 1.913398}}
    },
    {
      "data": {"values": [{}]},
      "mark": {"type": "text", "text": "SMA (100, close)", "align": "left", "baseline": "alphabetic", "fontSize": 24, "color": "#131722"},
      "encoding": {"x": {"datum": 4.13}, "y": {"datum": 1.910311}}
    },
    {
      "data": {"values": [{}]},
      "mark": {"type": "text", "text": "1.86590", "align": "left", "baseline": "alphabetic", "fontSize": 24, "color": "#2962ff"},
      "encoding": {"x": {"datum": 44.04}, "y": {"datum": 1.910311}}
    },
    {
      "data": {"values": [{}]},
      "mark": {
        "type": "point", "filled": true, "color": "#111111", "opacity": 1, "size": 3481, "strokeWidth": 0,
        "shape": "M-1,-0.49H-0.142V0.49H-0.481V-0.03H-1Z M0.322,0.49L0.627,-0.49L1,-0.49L0.695,0.49Z M0.02,-0.29A0.2,0.2 0 1,0 0.42,-0.29A0.2,0.2 0 1,0 0.02,-0.29Z"
      },
      "encoding": {"x": {"datum": 7.36}, "y": {"datum": 1.781588}}
    },
    {
      "data": {"values": [{}]},
      "mark": {"type": "text", "text": "TradingView", "align": "left", "baseline": "alphabetic", "font": "Inter", "fontSize": 39, "fontWeight": 700, "color": "#111111"},
      "encoding": {"x": {"datum": 15.87}, "y": {"datum": 1.780257}}
    }
  ]
}
